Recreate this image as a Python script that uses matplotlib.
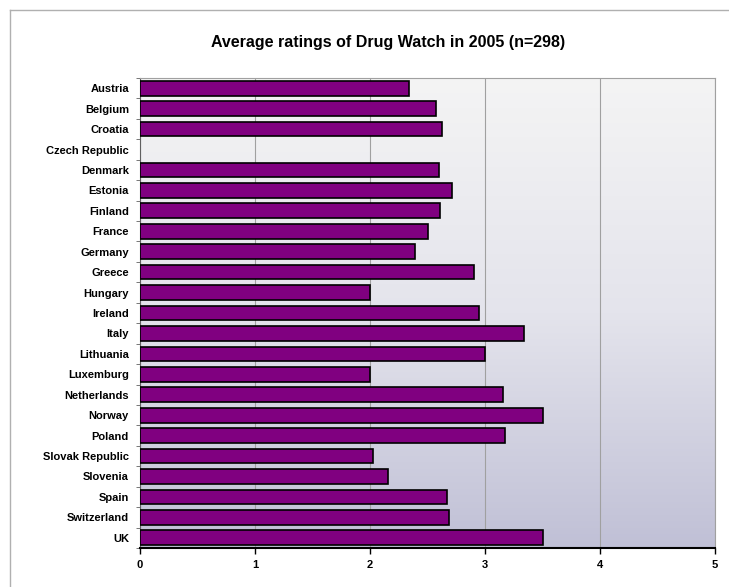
import numpy as np
import matplotlib.pyplot as plt
from matplotlib.colors import LinearSegmentedColormap
from matplotlib.lines import Line2D

plt.rcParams['font.family'] = ['Liberation Sans', 'DejaVu Sans']

# data (Czech Republic has no bar)
countries = ['Austria', 'Belgium', 'Croatia', 'Czech Republic', 'Denmark', 'Estonia',
             'Finland', 'France', 'Germany', 'Greece', 'Hungary', 'Ireland', 'Italy',
             'Lithuania', 'Luxemburg', 'Netherlands', 'Norway', 'Poland',
             'Slovak Republic', 'Slovenia', 'Spain', 'Switzerland', 'UK']
ratings = [2.34, 2.57, 2.63, np.nan, 2.60, 2.71, 2.61, 2.50, 2.39, 2.90, 2.00, 2.95, 3.34,
           3.00, 2.00, 3.16, 3.50, 3.17, 2.03, 2.16, 2.67, 2.69, 3.50]
xticks = [0, 1, 2, 3, 4, 5]

fig = plt.figure(figsize=(7.29, 5.87), dpi=100)
# light frame (open at right and bottom, cut by image edge)
fx, fy = 10/729, 1 - 10/587
fig.add_artist(Line2D([fx, 1], [fy, fy], transform=fig.transFigure, color='#b0b0b0', lw=1))
fig.add_artist(Line2D([fx, fx], [0, fy], transform=fig.transFigure, color='#b0b0b0', lw=1))

ax = fig.add_axes([140/729, 1 - 548/587, 575/729, 470/587])

# gradient background
cmap = LinearSegmentedColormap.from_list('bg', ['#f4f4f4', '#e4e4ec', '#c0c0d6'])
grad = np.linspace(0, 1, 256).reshape(-1, 1)
ax.imshow(grad, aspect='auto', cmap=cmap, extent=[0, 1, 0, 1],
          transform=ax.transAxes, zorder=0)

y = np.arange(len(countries))
ax.barh(y, ratings, height=0.72, color='#800080', edgecolor='black', linewidth=1.2, zorder=3)

ax.set_xlim(0, 5)
ax.set_ylim(len(countries) - 0.5, -0.5)
ax.set_xticks(xticks)
ax.set_xticklabels([str(t) for t in xticks], fontsize=8, fontweight='bold')
ax.set_yticks(y)
ax.set_yticklabels(countries, fontsize=8, fontweight='bold')
ax.set_yticks(np.arange(len(countries) + 1) - 0.5, minor=True)
ax.tick_params(axis='y', which='major', length=0, pad=8)
ax.tick_params(axis='y', which='minor', length=3, color='#606060')
ax.tick_params(axis='x', length=4, width=1, pad=5)
ax.grid(axis='x', color='#a0a0a0', linewidth=0.8, zorder=1)

ax.spines['bottom'].set_linewidth(1.5)
ax.spines['bottom'].set_color('black')
ax.spines['left'].set_color('#606060')
for s in ['top', 'right']:
    ax.spines[s].set_color('#a0a0a0')
    ax.spines[s].set_linewidth(0.8)

fig.text(388/729, 1 - 43/587, 'Average ratings of Drug Watch in 2005 (n=298)',
         ha='center', va='center', fontsize=11.5, fontweight='bold')

fig.savefig('out.png', dpi=100)
